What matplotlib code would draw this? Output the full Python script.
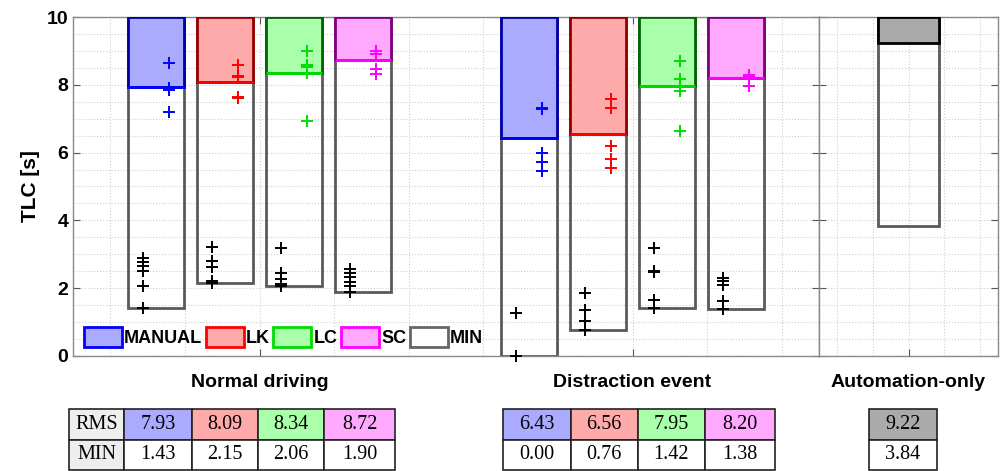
import numpy as np
import matplotlib.pyplot as plt
from matplotlib.patches import Patch
from matplotlib.ticker import MultipleLocator

plt.rcParams['font.family'] = ['Liberation Sans', 'DejaVu Sans']
plt.rcParams['font.weight'] = 'bold'

# ---- data ----
modes = ["MANUAL", "LK", "LC", "SC"]
groups = ["Normal driving", "Distraction event"]
rms_normal = [7.93, 8.09, 8.34, 8.72]
min_normal = [1.43, 2.15, 2.06, 1.90]
rms_distr = [6.43, 6.56, 7.95, 8.20]
min_distr = [0.00, 0.76, 1.42, 1.38]
rms_auto = 9.22
min_auto = 3.84

# per-driver values (coloured = RMS, black = MIN)
pts_rms_normal = [[8.65, 7.92, 7.85, 7.21],
                  [8.58, 8.27, 8.22, 7.64, 7.60],
                  [9.01, 8.58, 8.53, 8.36, 6.94],
                  [9.01, 8.90, 8.47, 8.31]]
pts_min_normal = [[2.88, 2.76, 2.64, 2.52, 2.05, 1.43],
                  [3.22, 2.81, 2.62, 2.21, 2.15],
                  [3.18, 2.44, 2.27, 2.12, 2.06],
                  [2.56, 2.46, 2.34, 2.19, 2.05, 1.90]]
pts_rms_distr = [[7.32, 7.29, 6.00, 5.72, 5.45],
                 [7.59, 7.31, 6.20, 5.80, 5.56],
                 [8.71, 8.16, 7.83, 6.64],
                 [8.29, 8.24, 8.20, 7.95]]
pts_min_distr = [[1.28, 0.00],
                 [1.87, 1.36, 1.04, 0.76],
                 [3.19, 2.50, 2.47, 1.66, 1.42],
                 [2.29, 2.20, 2.10, 1.62, 1.38]]

bright = ["#0000FF", "#FF0000", "#00DD00", "#FF00FF"]
dark = ["#0000AA", "#990000", "#006600", "#800080"]
fills = ["#AAAAFF", "#FFAAAA", "#AAFFAA", "#FFAAFF"]
min_edge = "#5a5a5a"
spine_col = "#888888"
ymax = 10

fig = plt.figure(figsize=(10.03, 4.71), dpi=100)
ax1 = fig.add_axes([0.0728, 0.2442, 0.7438, 0.7197])
ax2 = fig.add_axes([0.8166, 0.2442, 0.1785, 0.7197])

offsets = [-0.2775, -0.0925, 0.0925, 0.2775]
bw = 0.15
dx = 0.036

def style_axis(ax):
    ax.set_ylim(0, 10)
    ax.yaxis.set_major_locator(MultipleLocator(2))
    ax.yaxis.set_minor_locator(MultipleLocator(0.5))
    ax.xaxis.set_minor_locator(MultipleLocator(0.2))
    ax.grid(True, which='both', linestyle=':', color='#cfcfcf', linewidth=0.8)
    ax.set_axisbelow(True)
    for s in ax.spines.values():
        s.set_color(spine_col)
        s.set_linewidth(1.0)
    ax.tick_params(which='major', direction='in', length=5, color='#555555',
                   top=True, right=True, labelsize=14)
    ax.tick_params(which='minor', length=0)
    ax.tick_params(axis='x', pad=13)

style_axis(ax1)
style_axis(ax2)

datasets = [(rms_normal, min_normal, pts_rms_normal, pts_min_normal),
            (rms_distr, min_distr, pts_rms_distr, pts_min_distr)]
for g, (rms, mn, prms, pmin) in enumerate(datasets):
    center = g + 1
    for i in range(len(modes)):
        x = center + offsets[i]
        ax1.bar(x, ymax - mn[i], bottom=mn[i], width=bw, facecolor='none',
                edgecolor=min_edge, linewidth=2, zorder=2)
        ax1.bar(x, ymax - rms[i], bottom=rms[i], width=bw, facecolor=fills[i],
                edgecolor=dark[i], linewidth=2, zorder=3)
        ax1.hlines(rms[i], x - bw / 2, x + bw / 2, color=bright[i], linewidth=2, zorder=4)
        ax1.plot([x + dx] * len(prms[i]), prms[i], '+', color=bright[i],
                 markersize=9, markeredgewidth=1.4, zorder=5, clip_on=False)
        ax1.plot([x - dx] * len(pmin[i]), pmin[i], '+', color='black',
                 markersize=9, markeredgewidth=1.4, zorder=5, clip_on=False)

ax1.set_xlim(0.5, 2.5)
ax1.set_xticks([1, 2])
ax1.set_xticklabels(groups, fontweight='bold')
ax1.set_yticks([0, 2, 4, 6, 8, 10])
ax1.set_ylabel("TLC [s]", fontsize=15, fontweight='bold', labelpad=5)

ax2.bar(1, ymax - min_auto, bottom=min_auto, width=0.34, facecolor='none',
        edgecolor=min_edge, linewidth=2, zorder=2)
ax2.bar(1, ymax - rms_auto, bottom=rms_auto, width=0.34, facecolor='#AAAAAA',
        edgecolor='black', linewidth=2, zorder=3)
ax2.set_xlim(0.5, 1.5)
ax2.set_xticks([1])
ax2.set_xticklabels(["Automation-only"], fontweight='bold')
ax2.set_yticklabels([])

handles = [Patch(facecolor=fills[i], edgecolor=bright[i], linewidth=2, label=modes[i])
           for i in range(len(modes))]
handles.append(Patch(facecolor='white', edgecolor='#666666', linewidth=2, label='MIN'))
ax1.legend(handles=handles, ncol=5, loc='lower left', bbox_to_anchor=(0.0, -0.005),
           frameon=False, handlelength=2.1, handleheight=1.35, columnspacing=0.2,
           handletextpad=0.12, borderaxespad=0.2,
           prop={'weight': 'bold', 'size': 13})

# ---- tables ----
def draw_table(rect, rows, colours, widths):
    tax = fig.add_axes(rect)
    tax.axis('off')
    tb = tax.table(cellText=rows, cellColours=colours, colWidths=widths,
                   bbox=[0, 0, 1, 1], cellLoc='center')
    tb.auto_set_font_size(False)
    for cell in tb.get_celld().values():
        cell.set_edgecolor('#222222')
        cell.set_linewidth(1.2)
        cell.get_text().set_fontfamily('Liberation Serif')
        cell.get_text().set_fontweight('normal')
        cell.get_text().set_fontsize(14.5)
    return tb

fmt = lambda v: f"{v:.2f}"
draw_table([0.0688, 0.002, 0.325, 0.1295],
           [["RMS"] + [fmt(v) for v in rms_normal], ["MIN"] + [fmt(v) for v in min_normal]],
           [["#EEEEEE"] + fills, ["#EEEEEE"] + ["white"] * 4],
           [55.3, 67.4, 66.6, 66.0, 70.7])
draw_table([0.5018, 0.002, 0.2709, 0.1295],
           [[fmt(v) for v in rms_distr], [fmt(v) for v in min_distr]],
           [fills, ["white"] * 4],
           [67.4, 67.0, 67.3, 70.0])
draw_table([0.8667, 0.002, 0.0672, 0.1295],
           [[fmt(rms_auto)], [fmt(min_auto)]],
           [["#AAAAAA"], ["white"]],
           [1.0])

fig.savefig("out.png", dpi=100)
